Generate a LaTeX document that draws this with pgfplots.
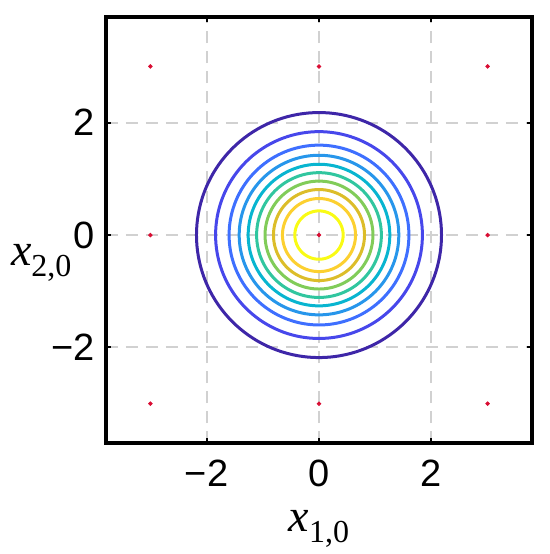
\documentclass[border=0pt]{standalone}
\usepackage{fontspec}
\setmainfont{Liberation Serif}
\newfontfamily\arialf{Liberation Sans}
\usepackage{pgfplots}
\pgfplotsset{compat=1.18}
\definecolor{p1}{rgb}{0.2422,0.1504,0.6603}
\definecolor{p2}{rgb}{0.2803,0.2782,0.9221}
\definecolor{p3}{rgb}{0.2440,0.4358,0.9988}
\definecolor{p4}{rgb}{0.1540,0.5902,0.9218}
\definecolor{p5}{rgb}{0.0297,0.7082,0.8163}
\definecolor{p6}{rgb}{0.1938,0.7758,0.6251}
\definecolor{p7}{rgb}{0.5044,0.7993,0.3480}
\definecolor{p8}{rgb}{0.8634,0.7406,0.1596}
\definecolor{p9}{rgb}{0.9892,0.8136,0.1885}
\definecolor{p10}{rgb}{0.9769,0.9839,0.0805}
\definecolor{gridgray}{rgb}{0.82,0.82,0.82}
\definecolor{dotred}{rgb}{0.85,0.05,0.2}
\begin{document}
\begin{tikzpicture}
\path[use as bounding box] (-53pt,-55.5pt) rectangle (222pt,221.5pt);
\begin{axis}[
  at={(0,0)}, anchor=south west,
  scale only axis, width=213pt, height=213pt,
  xmin=-3.79, xmax=3.79, ymin=-3.7, ymax=3.88,
  xtick={-2,0,2}, ytick={-2,0,2},
  xticklabels={−2,0,2}, yticklabels={−2,0,2},
  tick align=inside, major tick length=2.5pt,
  tick style={black, line width=1pt},
  axis line style={line width=1.6pt, black},
  grid=major,
  major grid style={gridgray, line width=1pt, dash pattern=on 6pt off 4pt},
  ticklabel style={font=\arialf\fontsize{19}{19}\selectfont},
  xticklabel style={yshift=-5pt},
  yticklabel style={xshift=-2pt},
  every axis x label/.style={at={(axis description cs:0.5,0)}, anchor=base, yshift=-44pt},
  every axis y label/.style={at={(axis description cs:0,0.5)}, anchor=base west, xshift=-51pt, yshift=-17.5pt},
  xlabel={{\fontsize{23}{23}\selectfont\itshape x}\raisebox{-5.5pt}{\fontsize{16}{16}\selectfont 1,0}},
  ylabel={{\fontsize{23}{23}\selectfont\itshape x}\raisebox{-5.5pt}{\fontsize{16}{16}\selectfont 2,0}},
]
\addplot[p1, line width=1.5pt, domain=0:360, samples=145] ({2.18*cos(x)},{2.18*sin(x)});
\addplot[p2, line width=1.5pt, domain=0:360, samples=145] ({1.84*cos(x)},{1.84*sin(x)});
\addplot[p3, line width=1.5pt, domain=0:360, samples=145] ({1.60*cos(x)},{1.60*sin(x)});
\addplot[p4, line width=1.5pt, domain=0:360, samples=145] ({1.42*cos(x)},{1.42*sin(x)});
\addplot[p5, line width=1.5pt, domain=0:360, samples=145] ({1.26*cos(x)},{1.26*sin(x)});
\addplot[p6, line width=1.5pt, domain=0:360, samples=145] ({1.11*cos(x)},{1.11*sin(x)});
\addplot[p7, line width=1.5pt, domain=0:360, samples=145] ({0.96*cos(x)},{0.96*sin(x)});
\addplot[p8, line width=1.5pt, domain=0:360, samples=145] ({0.81*cos(x)},{0.81*sin(x)});
\addplot[p9, line width=1.5pt, domain=0:360, samples=145] ({0.65*cos(x)},{0.65*sin(x)});
\addplot[p10, line width=1.5pt, domain=0:360, samples=145] ({0.43*cos(x)},{0.43*sin(x)});
\addplot[only marks, mark=*, mark size=0.9pt, dotred, draw=dotred] coordinates {
(-3,-3) (0,-3) (3,-3) (-3,0) (0,0) (3,0) (-3,3) (0,3) (3,3)};
\end{axis}
\end{tikzpicture}
\end{document}
